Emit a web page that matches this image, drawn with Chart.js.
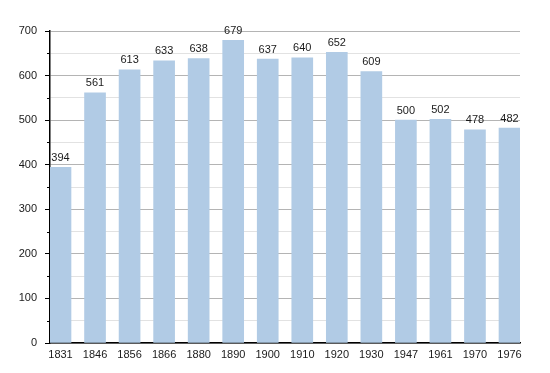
<!DOCTYPE html>
<html>
<head>
<meta charset="utf-8">
<script src="https://cdn.jsdelivr.net/npm/chart.js@4"></script>
<style>
  html, body { margin: 0; padding: 0; background: #fff; }
  #chart { display: block; }
</style>
</head>
<body>
<canvas id="chart" width="550" height="373"></canvas>
<script>
// Anni del censimento e popolazione
const years = ['1831', '1846', '1856', '1866', '1880', '1890', '1900', '1910', '1920', '1930', '1947', '1961', '1970', '1976'];
const population = [394, 561, 613, 633, 638, 679, 637, 640, 652, 609, 500, 502, 478, 482];
const yTicks = [0, 100, 200, 300, 400, 500, 600, 700];

const barColor = '#b1cbe5';
const fontFamily = '"Liberation Sans", Arial, sans-serif';

// Etichette con il valore sopra ogni barra
const valueLabels = {
    id: 'valueLabels',
    afterDatasetsDraw(chart) {
        const ctx = chart.ctx;
        const meta = chart.getDatasetMeta(0);
        ctx.save();
        ctx.font = '11px ' + fontFamily;
        ctx.fillStyle = '#1a1a1a';
        ctx.textAlign = 'center';
        ctx.textBaseline = 'bottom';
        meta.data.forEach((bar, i) => {
            ctx.fillText(String(population[i]), bar.x, bar.y - 4);
        });
        ctx.restore();
    }
};

// Tacche secondarie (ogni 50) più corte
const minorTicks = {
    id: 'minorTicks',
    afterDraw(chart) {
        const ctx = chart.ctx;
        const y = chart.scales.y;
        ctx.save();
        ctx.strokeStyle = '#000';
        ctx.lineWidth = 1;
        for (let v = 50; v < 700; v += 100) {
            const py = Math.round(y.getPixelForValue(v)) + 0.5;
            ctx.beginPath();
            ctx.moveTo(y.right - 3, py);
            ctx.lineTo(y.right, py);
            ctx.stroke();
        }
        ctx.restore();
    }
};

const ctx = document.getElementById('chart').getContext('2d');
new Chart(ctx, {
    type: 'bar',
    data: {
        datasets: [{
            data: population.map((v, i) => ({ x: i, y: v })),
            backgroundColor: barColor,
            borderWidth: 0,
            barThickness: 21
        }]
    },
    options: {
        responsive: false,
        animation: false,
        layout: { padding: { top: 31, right: 30, bottom: 0, left: 0 } },
        plugins: {
            legend: { display: false },
            tooltip: { enabled: false }
        },
        scales: {
            x: {
                type: 'linear',
                offset: false,
                min: -0.304,
                max: years.length - 1 + 0.304,
                afterBuildTicks: (scale) => {
                    scale.ticks = years.map((y, i) => ({ value: i }));
                },
                afterFit: (scale) => { scale.height = 30; },
                grid: { display: false, drawTicks: false, offset: false },
                border: { color: '#000', width: 1.5 },
                ticks: {
                    autoSkip: false,
                    maxRotation: 0,
                    padding: 5,
                    color: '#1a1a1a',
                    font: { family: fontFamily, size: 11 },
                    callback: (v) => years[v] ?? ''
                }
            },
            y: {
                min: 0,
                max: 700,
                afterBuildTicks: (scale) => {
                    const t = [];
                    for (let v = 0; v <= 700; v += 50) t.push({ value: v });
                    scale.ticks = t;
                },
                afterFit: (scale) => { scale.width = 50; },
                grid: {
                    color: (c) => c.tick.value % 100 === 0 ? '#b4b4b4' : '#e2e2e2',
                    tickColor: (c) => c.tick.value % 100 === 0 ? '#000' : 'rgba(0,0,0,0)',
                    tickLength: 5
                },
                border: { color: '#000', width: 1.5 },
                ticks: {
                    padding: 8,
                    color: '#1a1a1a',
                    font: { family: fontFamily, size: 11 },
                    callback: (v) => yTicks.includes(v) ? String(v) : ''
                }
            }
        }
    },
    plugins: [valueLabels, minorTicks]
});
</script>
</body>
</html>
